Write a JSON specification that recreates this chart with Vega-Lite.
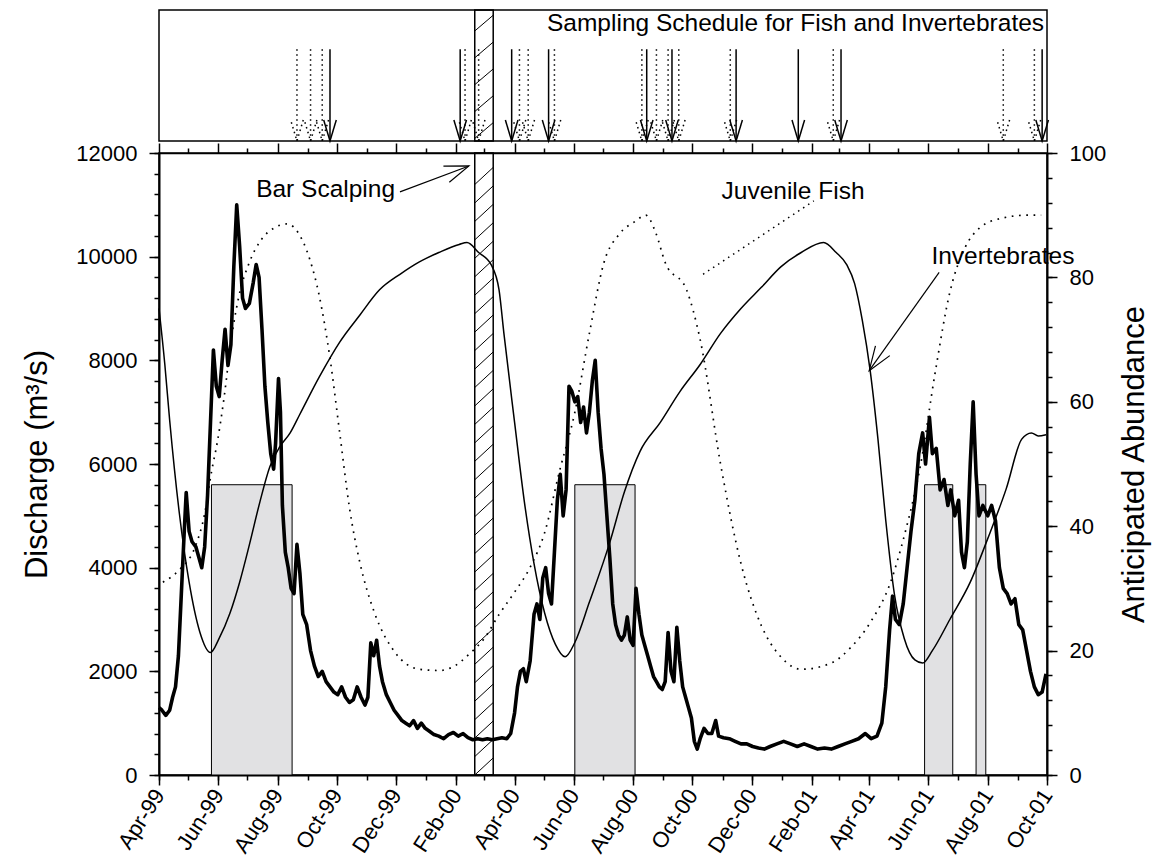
{
  "$schema": "https://vega.github.io/schema/vega-lite/v6.json",
  "padding": {"left": 21, "top": 8, "right": 5, "bottom": 5},
  "bounds": "flush",
  "spacing": 12,
  "config": {
    "font": "Liberation Sans",
    "view": {"stroke": "black", "strokeWidth": 1.5},
    "axis": {
      "grid": false,
      "domainColor": "black",
      "tickColor": "black",
      "labelColor": "black",
      "titleColor": "black",
      "labelFont": "Liberation Sans",
      "titleFont": "Liberation Sans",
      "labelFontSize": 22,
      "titleFontSize": 31,
      "titleFontWeight": "normal",
      "domainWidth": 2,
      "tickWidth": 1.5
    }
  },
  "datasets": {
    "discharge": [
      {"date": "1999-04-01", "q": 1300}, {"date": "1999-04-04", "q": 1250}, {"date": "1999-04-08", "q": 1150},
      {"date": "1999-04-12", "q": 1250}, {"date": "1999-04-15", "q": 1500}, {"date": "1999-04-18", "q": 1700},
      {"date": "1999-04-21", "q": 2300}, {"date": "1999-04-24", "q": 3500}, {"date": "1999-04-27", "q": 4700},
      {"date": "1999-04-29", "q": 5450}, {"date": "1999-05-02", "q": 4700}, {"date": "1999-05-05", "q": 4500},
      {"date": "1999-05-09", "q": 4400}, {"date": "1999-05-12", "q": 4200}, {"date": "1999-05-15", "q": 4000},
      {"date": "1999-05-18", "q": 4400}, {"date": "1999-05-21", "q": 5400}, {"date": "1999-05-24", "q": 6800},
      {"date": "1999-05-27", "q": 8200}, {"date": "1999-05-30", "q": 7500}, {"date": "1999-06-02", "q": 7300},
      {"date": "1999-06-05", "q": 8000}, {"date": "1999-06-08", "q": 8600}, {"date": "1999-06-11", "q": 7900},
      {"date": "1999-06-14", "q": 8300}, {"date": "1999-06-17", "q": 9800}, {"date": "1999-06-20", "q": 11000},
      {"date": "1999-06-23", "q": 10200}, {"date": "1999-06-26", "q": 9200}, {"date": "1999-06-29", "q": 9000},
      {"date": "1999-07-03", "q": 9100}, {"date": "1999-07-07", "q": 9500}, {"date": "1999-07-10", "q": 9850},
      {"date": "1999-07-13", "q": 9600}, {"date": "1999-07-16", "q": 8600}, {"date": "1999-07-19", "q": 7500},
      {"date": "1999-07-22", "q": 6800}, {"date": "1999-07-25", "q": 6200}, {"date": "1999-07-28", "q": 5900},
      {"date": "1999-07-30", "q": 6400}, {"date": "1999-08-02", "q": 7650}, {"date": "1999-08-04", "q": 7000},
      {"date": "1999-08-06", "q": 5200}, {"date": "1999-08-09", "q": 4300}, {"date": "1999-08-12", "q": 4000},
      {"date": "1999-08-15", "q": 3600}, {"date": "1999-08-18", "q": 3500}, {"date": "1999-08-21", "q": 4450},
      {"date": "1999-08-24", "q": 3900}, {"date": "1999-08-27", "q": 3100}, {"date": "1999-08-31", "q": 2900},
      {"date": "1999-09-04", "q": 2400}, {"date": "1999-09-08", "q": 2100}, {"date": "1999-09-12", "q": 1900},
      {"date": "1999-09-16", "q": 2000}, {"date": "1999-09-20", "q": 1800}, {"date": "1999-09-24", "q": 1700},
      {"date": "1999-09-28", "q": 1600}, {"date": "1999-10-02", "q": 1550}, {"date": "1999-10-06", "q": 1700},
      {"date": "1999-10-10", "q": 1500}, {"date": "1999-10-14", "q": 1400}, {"date": "1999-10-18", "q": 1450},
      {"date": "1999-10-22", "q": 1700}, {"date": "1999-10-26", "q": 1500}, {"date": "1999-10-30", "q": 1350},
      {"date": "1999-11-02", "q": 1500}, {"date": "1999-11-05", "q": 2550}, {"date": "1999-11-08", "q": 2300},
      {"date": "1999-11-11", "q": 2600}, {"date": "1999-11-14", "q": 2100}, {"date": "1999-11-17", "q": 1800},
      {"date": "1999-11-21", "q": 1550}, {"date": "1999-11-25", "q": 1400}, {"date": "1999-11-29", "q": 1250},
      {"date": "1999-12-03", "q": 1150}, {"date": "1999-12-07", "q": 1050}, {"date": "1999-12-11", "q": 1000},
      {"date": "1999-12-15", "q": 950}, {"date": "1999-12-19", "q": 1050}, {"date": "1999-12-23", "q": 900},
      {"date": "1999-12-27", "q": 1000}, {"date": "1999-12-31", "q": 900}, {"date": "2000-01-04", "q": 850},
      {"date": "2000-01-09", "q": 780}, {"date": "2000-01-14", "q": 750}, {"date": "2000-01-19", "q": 700},
      {"date": "2000-01-24", "q": 780}, {"date": "2000-01-29", "q": 820}, {"date": "2000-02-03", "q": 750},
      {"date": "2000-02-08", "q": 800}, {"date": "2000-02-13", "q": 720}, {"date": "2000-02-18", "q": 680},
      {"date": "2000-02-23", "q": 700}, {"date": "2000-02-28", "q": 680}, {"date": "2000-03-04", "q": 700},
      {"date": "2000-03-09", "q": 680}, {"date": "2000-03-14", "q": 700}, {"date": "2000-03-19", "q": 720},
      {"date": "2000-03-24", "q": 700}, {"date": "2000-03-28", "q": 800}, {"date": "2000-04-01", "q": 1200},
      {"date": "2000-04-04", "q": 1700}, {"date": "2000-04-07", "q": 2000}, {"date": "2000-04-10", "q": 2050},
      {"date": "2000-04-13", "q": 1800}, {"date": "2000-04-17", "q": 2200}, {"date": "2000-04-21", "q": 3100},
      {"date": "2000-04-24", "q": 3300}, {"date": "2000-04-27", "q": 3000}, {"date": "2000-04-30", "q": 3800},
      {"date": "2000-05-03", "q": 4000}, {"date": "2000-05-06", "q": 3500}, {"date": "2000-05-09", "q": 3300},
      {"date": "2000-05-12", "q": 4300}, {"date": "2000-05-15", "q": 5300}, {"date": "2000-05-18", "q": 5800},
      {"date": "2000-05-21", "q": 5000}, {"date": "2000-05-24", "q": 5500}, {"date": "2000-05-27", "q": 7500},
      {"date": "2000-05-30", "q": 7400}, {"date": "2000-06-02", "q": 7200}, {"date": "2000-06-05", "q": 7300},
      {"date": "2000-06-08", "q": 6800}, {"date": "2000-06-11", "q": 7100}, {"date": "2000-06-14", "q": 6600},
      {"date": "2000-06-17", "q": 7000}, {"date": "2000-06-20", "q": 7600}, {"date": "2000-06-23", "q": 8000},
      {"date": "2000-06-26", "q": 7000}, {"date": "2000-06-29", "q": 6300}, {"date": "2000-07-02", "q": 5800},
      {"date": "2000-07-05", "q": 5000}, {"date": "2000-07-08", "q": 4200}, {"date": "2000-07-11", "q": 3300},
      {"date": "2000-07-14", "q": 2900}, {"date": "2000-07-17", "q": 2700}, {"date": "2000-07-20", "q": 2600},
      {"date": "2000-07-23", "q": 2700}, {"date": "2000-07-26", "q": 3050}, {"date": "2000-07-29", "q": 2600},
      {"date": "2000-08-01", "q": 2500}, {"date": "2000-08-04", "q": 3600}, {"date": "2000-08-07", "q": 3100},
      {"date": "2000-08-10", "q": 2700}, {"date": "2000-08-13", "q": 2500}, {"date": "2000-08-16", "q": 2300},
      {"date": "2000-08-19", "q": 2100}, {"date": "2000-08-22", "q": 1900}, {"date": "2000-08-25", "q": 1800},
      {"date": "2000-08-28", "q": 1700}, {"date": "2000-08-31", "q": 1650}, {"date": "2000-09-03", "q": 1800},
      {"date": "2000-09-06", "q": 2750}, {"date": "2000-09-09", "q": 2000}, {"date": "2000-09-12", "q": 1800},
      {"date": "2000-09-15", "q": 2850}, {"date": "2000-09-18", "q": 2200}, {"date": "2000-09-21", "q": 1700},
      {"date": "2000-09-24", "q": 1500}, {"date": "2000-09-27", "q": 1300}, {"date": "2000-09-30", "q": 1100},
      {"date": "2000-10-03", "q": 650}, {"date": "2000-10-06", "q": 500}, {"date": "2000-10-09", "q": 700},
      {"date": "2000-10-13", "q": 900}, {"date": "2000-10-17", "q": 800}, {"date": "2000-10-21", "q": 800},
      {"date": "2000-10-25", "q": 1050}, {"date": "2000-10-28", "q": 750}, {"date": "2000-11-02", "q": 720},
      {"date": "2000-11-08", "q": 700}, {"date": "2000-11-14", "q": 650}, {"date": "2000-11-20", "q": 600},
      {"date": "2000-11-26", "q": 600}, {"date": "2000-12-02", "q": 550}, {"date": "2000-12-08", "q": 520},
      {"date": "2000-12-14", "q": 500}, {"date": "2000-12-20", "q": 550}, {"date": "2000-12-27", "q": 600},
      {"date": "2001-01-03", "q": 650}, {"date": "2001-01-10", "q": 600}, {"date": "2001-01-17", "q": 550},
      {"date": "2001-01-24", "q": 600}, {"date": "2001-01-31", "q": 550}, {"date": "2001-02-07", "q": 500},
      {"date": "2001-02-14", "q": 520}, {"date": "2001-02-21", "q": 500}, {"date": "2001-02-28", "q": 550},
      {"date": "2001-03-07", "q": 600}, {"date": "2001-03-14", "q": 650}, {"date": "2001-03-21", "q": 700},
      {"date": "2001-03-28", "q": 800}, {"date": "2001-04-03", "q": 700}, {"date": "2001-04-09", "q": 750},
      {"date": "2001-04-14", "q": 1000}, {"date": "2001-04-18", "q": 1700}, {"date": "2001-04-22", "q": 2800},
      {"date": "2001-04-25", "q": 3450}, {"date": "2001-04-28", "q": 3000}, {"date": "2001-05-02", "q": 2900},
      {"date": "2001-05-06", "q": 3300}, {"date": "2001-05-10", "q": 4000}, {"date": "2001-05-14", "q": 4700},
      {"date": "2001-05-18", "q": 5300}, {"date": "2001-05-22", "q": 6200}, {"date": "2001-05-26", "q": 6600},
      {"date": "2001-05-29", "q": 6000}, {"date": "2001-06-02", "q": 6900}, {"date": "2001-06-05", "q": 6200},
      {"date": "2001-06-09", "q": 6300}, {"date": "2001-06-13", "q": 5500}, {"date": "2001-06-17", "q": 5700},
      {"date": "2001-06-21", "q": 5200}, {"date": "2001-06-24", "q": 5500}, {"date": "2001-06-28", "q": 5000},
      {"date": "2001-07-02", "q": 5300}, {"date": "2001-07-05", "q": 4300}, {"date": "2001-07-08", "q": 4000},
      {"date": "2001-07-11", "q": 4500}, {"date": "2001-07-14", "q": 6000}, {"date": "2001-07-17", "q": 7200},
      {"date": "2001-07-20", "q": 5800}, {"date": "2001-07-23", "q": 5000}, {"date": "2001-07-27", "q": 5200},
      {"date": "2001-08-01", "q": 5000}, {"date": "2001-08-05", "q": 5200}, {"date": "2001-08-09", "q": 4900},
      {"date": "2001-08-13", "q": 4000}, {"date": "2001-08-17", "q": 3600}, {"date": "2001-08-21", "q": 3500},
      {"date": "2001-08-25", "q": 3300}, {"date": "2001-08-29", "q": 3400}, {"date": "2001-09-02", "q": 2900},
      {"date": "2001-09-06", "q": 2800}, {"date": "2001-09-10", "q": 2400}, {"date": "2001-09-14", "q": 2000},
      {"date": "2001-09-18", "q": 1700}, {"date": "2001-09-22", "q": 1550}, {"date": "2001-09-26", "q": 1600},
      {"date": "2001-09-30", "q": 1950}
    ],
    "fish": [
      {"date": "1999-04-05", "a": 31}, {"date": "1999-04-22", "a": 33}, {"date": "1999-05-08", "a": 36.6},
      {"date": "1999-05-18", "a": 42}, {"date": "1999-05-25", "a": 48.7}, {"date": "1999-05-31", "a": 53.5},
      {"date": "1999-06-07", "a": 60.7}, {"date": "1999-06-14", "a": 69.6}, {"date": "1999-06-22", "a": 76.8},
      {"date": "1999-07-03", "a": 82.4}, {"date": "1999-07-15", "a": 86}, {"date": "1999-07-29", "a": 88},
      {"date": "1999-08-11", "a": 88.6}, {"date": "1999-08-23", "a": 87}, {"date": "1999-09-03", "a": 83},
      {"date": "1999-09-13", "a": 77}, {"date": "1999-09-24", "a": 67}, {"date": "1999-10-04", "a": 55},
      {"date": "1999-10-14", "a": 43}, {"date": "1999-10-25", "a": 34}, {"date": "1999-11-09", "a": 26},
      {"date": "1999-11-30", "a": 19.7}, {"date": "1999-12-25", "a": 17}, {"date": "2000-01-14", "a": 16.8},
      {"date": "2000-01-30", "a": 17.5}, {"date": "2000-02-14", "a": 19.4}, {"date": "2000-03-01", "a": 22},
      {"date": "2000-03-16", "a": 25.8}, {"date": "2000-04-01", "a": 29.4}, {"date": "2000-04-17", "a": 33.4},
      {"date": "2000-05-02", "a": 39}, {"date": "2000-05-17", "a": 48.7}, {"date": "2000-06-02", "a": 58.3},
      {"date": "2000-06-17", "a": 71}, {"date": "2000-07-02", "a": 82.4}, {"date": "2000-07-18", "a": 87},
      {"date": "2000-08-03", "a": 89}, {"date": "2000-08-14", "a": 90}, {"date": "2000-08-24", "a": 87.3},
      {"date": "2000-09-03", "a": 82.4}, {"date": "2000-09-25", "a": 78}, {"date": "2000-10-09", "a": 70},
      {"date": "2000-10-30", "a": 50}, {"date": "2000-11-20", "a": 34}, {"date": "2000-12-11", "a": 24},
      {"date": "2000-12-31", "a": 19}, {"date": "2001-01-21", "a": 17}, {"date": "2001-02-21", "a": 18},
      {"date": "2001-03-13", "a": 20.5}, {"date": "2001-04-02", "a": 24.5}, {"date": "2001-04-23", "a": 31},
      {"date": "2001-05-08", "a": 39}, {"date": "2001-05-24", "a": 50}, {"date": "2001-06-08", "a": 64.8},
      {"date": "2001-06-23", "a": 77.6}, {"date": "2001-07-09", "a": 84.9}, {"date": "2001-07-24", "a": 88},
      {"date": "2001-08-15", "a": 89.5}, {"date": "2001-09-10", "a": 90}, {"date": "2001-09-25", "a": 90}
    ],
    "invertebrates": [
      {"date": "1999-04-01", "a": 75}, {"date": "1999-04-07", "a": 66}, {"date": "1999-04-12", "a": 57},
      {"date": "1999-04-22", "a": 42}, {"date": "1999-05-02", "a": 31}, {"date": "1999-05-13", "a": 23},
      {"date": "1999-05-24", "a": 19.7}, {"date": "1999-06-02", "a": 22}, {"date": "1999-06-13", "a": 26},
      {"date": "1999-06-23", "a": 31}, {"date": "1999-07-03", "a": 37}, {"date": "1999-07-14", "a": 44},
      {"date": "1999-07-24", "a": 49.5}, {"date": "1999-08-03", "a": 52.7}, {"date": "1999-08-14", "a": 55},
      {"date": "1999-08-24", "a": 58}, {"date": "1999-09-13", "a": 64}, {"date": "1999-10-04", "a": 69.6},
      {"date": "1999-10-25", "a": 74}, {"date": "1999-11-14", "a": 78}, {"date": "1999-12-05", "a": 80.5},
      {"date": "1999-12-25", "a": 82.5}, {"date": "2000-01-14", "a": 84}, {"date": "2000-02-04", "a": 85.3},
      {"date": "2000-02-12", "a": 85.6}, {"date": "2000-02-24", "a": 84}, {"date": "2000-03-08", "a": 82},
      {"date": "2000-03-16", "a": 78}, {"date": "2000-03-21", "a": 71}, {"date": "2000-04-01", "a": 56.7},
      {"date": "2000-04-11", "a": 44}, {"date": "2000-04-21", "a": 34}, {"date": "2000-05-02", "a": 26},
      {"date": "2000-05-13", "a": 21}, {"date": "2000-05-23", "a": 19}, {"date": "2000-06-02", "a": 21.3},
      {"date": "2000-06-17", "a": 27.8}, {"date": "2000-07-08", "a": 37.4}, {"date": "2000-07-23", "a": 45.5},
      {"date": "2000-08-08", "a": 52}, {"date": "2000-08-29", "a": 56.7}, {"date": "2000-09-18", "a": 61.6},
      {"date": "2000-10-09", "a": 66}, {"date": "2000-10-30", "a": 71}, {"date": "2000-11-20", "a": 75},
      {"date": "2000-12-11", "a": 78.4}, {"date": "2000-12-31", "a": 81.7}, {"date": "2001-01-21", "a": 84},
      {"date": "2001-02-13", "a": 85.6}, {"date": "2001-02-26", "a": 84}, {"date": "2001-03-09", "a": 82},
      {"date": "2001-03-17", "a": 79}, {"date": "2001-03-25", "a": 73}, {"date": "2001-04-02", "a": 65},
      {"date": "2001-04-10", "a": 54}, {"date": "2001-04-18", "a": 41}, {"date": "2001-04-27", "a": 29},
      {"date": "2001-05-07", "a": 22}, {"date": "2001-05-18", "a": 18.5}, {"date": "2001-05-26", "a": 18},
      {"date": "2001-06-05", "a": 20}, {"date": "2001-06-23", "a": 25}, {"date": "2001-07-14", "a": 31},
      {"date": "2001-08-01", "a": 38}, {"date": "2001-08-20", "a": 46}, {"date": "2001-09-05", "a": 54},
      {"date": "2001-09-15", "a": 55}, {"date": "2001-09-22", "a": 54.5}, {"date": "2001-09-30", "a": 54.7}
    ],
    "flood": [
      {"start": "1999-05-25", "end": "1999-08-16", "top": 5600},
      {"start": "2000-06-02", "end": "2000-08-03", "top": 5600},
      {"start": "2001-05-28", "end": "2001-06-26", "top": 5600},
      {"start": "2001-07-20", "end": "2001-07-30", "top": 5600}
    ],
    "scalping": [{"start": "2000-02-20", "end": "2000-03-10"}],
    "hatchMain": [
      {"start": "2000-02-20", "end": "2000-03-10", "lo": 0, "hi": 330},
      {"start": "2000-02-20", "end": "2000-03-10", "lo": 356, "hi": 686},
      {"start": "2000-02-20", "end": "2000-03-10", "lo": 712, "hi": 1042},
      {"start": "2000-02-20", "end": "2000-03-10", "lo": 1068, "hi": 1398},
      {"start": "2000-02-20", "end": "2000-03-10", "lo": 1424, "hi": 1754},
      {"start": "2000-02-20", "end": "2000-03-10", "lo": 1780, "hi": 2110},
      {"start": "2000-02-20", "end": "2000-03-10", "lo": 2136, "hi": 2466},
      {"start": "2000-02-20", "end": "2000-03-10", "lo": 2492, "hi": 2822},
      {"start": "2000-02-20", "end": "2000-03-10", "lo": 2848, "hi": 3178},
      {"start": "2000-02-20", "end": "2000-03-10", "lo": 3204, "hi": 3534},
      {"start": "2000-02-20", "end": "2000-03-10", "lo": 3560, "hi": 3890},
      {"start": "2000-02-20", "end": "2000-03-10", "lo": 3916, "hi": 4246},
      {"start": "2000-02-20", "end": "2000-03-10", "lo": 4272, "hi": 4602},
      {"start": "2000-02-20", "end": "2000-03-10", "lo": 4628, "hi": 4958},
      {"start": "2000-02-20", "end": "2000-03-10", "lo": 4984, "hi": 5314},
      {"start": "2000-02-20", "end": "2000-03-10", "lo": 5340, "hi": 5670},
      {"start": "2000-02-20", "end": "2000-03-10", "lo": 5696, "hi": 6026},
      {"start": "2000-02-20", "end": "2000-03-10", "lo": 6052, "hi": 6382},
      {"start": "2000-02-20", "end": "2000-03-10", "lo": 6408, "hi": 6738},
      {"start": "2000-02-20", "end": "2000-03-10", "lo": 6764, "hi": 7094},
      {"start": "2000-02-20", "end": "2000-03-10", "lo": 7120, "hi": 7450},
      {"start": "2000-02-20", "end": "2000-03-10", "lo": 7476, "hi": 7806},
      {"start": "2000-02-20", "end": "2000-03-10", "lo": 7832, "hi": 8162},
      {"start": "2000-02-20", "end": "2000-03-10", "lo": 8188, "hi": 8518},
      {"start": "2000-02-20", "end": "2000-03-10", "lo": 8544, "hi": 8874},
      {"start": "2000-02-20", "end": "2000-03-10", "lo": 8900, "hi": 9230},
      {"start": "2000-02-20", "end": "2000-03-10", "lo": 9256, "hi": 9586},
      {"start": "2000-02-20", "end": "2000-03-10", "lo": 9612, "hi": 9942},
      {"start": "2000-02-20", "end": "2000-03-10", "lo": 9968, "hi": 10298},
      {"start": "2000-02-20", "end": "2000-03-10", "lo": 10324, "hi": 10654},
      {"start": "2000-02-20", "end": "2000-03-10", "lo": 10680, "hi": 11010},
      {"start": "2000-02-20", "end": "2000-03-10", "lo": 11036, "hi": 11366},
      {"start": "2000-02-20", "end": "2000-03-10", "lo": 11392, "hi": 11722}
    ],
    "hatchTop": [
      {"start": "2000-02-20", "end": "2000-03-10", "lo": 0.02, "hi": 0.14},
      {"start": "2000-02-20", "end": "2000-03-10", "lo": 0.225, "hi": 0.345},
      {"start": "2000-02-20", "end": "2000-03-10", "lo": 0.43, "hi": 0.55},
      {"start": "2000-02-20", "end": "2000-03-10", "lo": 0.635, "hi": 0.755},
      {"start": "2000-02-20", "end": "2000-03-10", "lo": 0.84, "hi": 0.96}
    ],
    "samples": [
      {"date": "1999-09-24", "kind": "Invertebrates"}, {"date": "2000-02-05", "kind": "Invertebrates"},
      {"date": "2000-03-29", "kind": "Invertebrates"}, {"date": "2000-05-06", "kind": "Invertebrates"},
      {"date": "2000-08-15", "kind": "Invertebrates"}, {"date": "2000-09-10", "kind": "Invertebrates"},
      {"date": "2000-11-15", "kind": "Invertebrates"}, {"date": "2001-01-18", "kind": "Invertebrates"},
      {"date": "2001-03-03", "kind": "Invertebrates"}, {"date": "2001-09-26", "kind": "Invertebrates"},
      {"date": "1999-08-21", "kind": "Fish"}, {"date": "1999-09-04", "kind": "Fish"},
      {"date": "1999-09-16", "kind": "Fish"}, {"date": "2000-02-10", "kind": "Fish"},
      {"date": "2000-02-24", "kind": "Fish"}, {"date": "2000-04-06", "kind": "Fish"},
      {"date": "2000-04-15", "kind": "Fish"}, {"date": "2000-05-12", "kind": "Fish"},
      {"date": "2000-08-10", "kind": "Fish"}, {"date": "2000-08-25", "kind": "Fish"},
      {"date": "2000-09-06", "kind": "Fish"}, {"date": "2000-09-17", "kind": "Fish"},
      {"date": "2000-11-09", "kind": "Fish"}, {"date": "2001-02-23", "kind": "Fish"},
      {"date": "2001-08-17", "kind": "Fish"}, {"date": "2001-09-18", "kind": "Fish"}
    ]
  },
  "vconcat": [
    {
      "width": 888,
      "height": 131,
      "layer": [
        {
          "data": {"name": "scalping"},
          "mark": {"type": "rect", "fill": "transparent", "stroke": "black", "strokeWidth": 1.5},
          "encoding": {
            "x": {"field": "start", "type": "temporal", "axis": null,
                  "scale": {"domain": [{"year": 1999, "month": 4, "date": 1}, {"year": 2001, "month": 10, "date": 1}], "nice": false}},
            "x2": {"field": "end"},
            "y": {"datum": 0, "type": "quantitative", "axis": null, "scale": {"domain": [0, 1], "nice": false}},
            "y2": {"datum": 1}
          }
        },
        {
          "data": {"name": "hatchTop"},
          "mark": {"type": "rule", "stroke": "black", "strokeWidth": 1},
          "encoding": {
            "x": {"field": "start", "type": "temporal", "axis": null},
            "x2": {"field": "end"},
            "y": {"field": "lo", "type": "quantitative", "axis": null},
            "y2": {"field": "hi"}
          }
        },
        {
          "data": {"name": "samples"},
          "mark": {"type": "rule", "stroke": "black", "strokeWidth": 1.5},
          "encoding": {
            "x": {"field": "date", "type": "temporal", "axis": null},
            "y": {"datum": 0.7, "type": "quantitative", "axis": null},
            "y2": {"datum": 0},
            "strokeDash": {"field": "kind", "type": "nominal", "legend": null,
                           "scale": {"domain": ["Invertebrates", "Fish"], "range": [[1, 0], [1.5, 3.5]]}}
          }
        },
        {
          "data": {"name": "samples"},
          "mark": {"type": "point", "shape": "M-1,-0.3L0,0L-1,0.3", "filled": false, "size": 1764,
                   "angle": 90, "stroke": "black", "strokeWidth": 1.5, "opacity": 1},
          "encoding": {
            "x": {"field": "date", "type": "temporal", "axis": null},
            "y": {"datum": 0, "type": "quantitative", "axis": null},
            "strokeDash": {"field": "kind", "type": "nominal", "legend": null,
                           "scale": {"domain": ["Invertebrates", "Fish"], "range": [[1, 0], [1.5, 3.5]]}}
          }
        },
        {
          "data": {"values": [{"label": "Sampling Schedule for Fish and Invertebrates", "date": "2001-09-28", "lvl": 0.84}]},
          "mark": {"type": "text", "align": "right", "baseline": "alphabetic", "fontSize": 24.5, "color": "black"},
          "encoding": {
            "x": {"field": "date", "type": "temporal", "axis": null},
            "y": {"field": "lvl", "type": "quantitative", "axis": null},
            "text": {"field": "label"}
          }
        }
      ]
    },
    {
      "width": 888,
      "height": 622,
      "layer": [
        {
          "layer": [
            {
              "data": {"name": "flood"},
              "mark": {"type": "rect", "fill": "#e1e1e3", "stroke": "black", "strokeWidth": 1},
              "encoding": {
                "x": {"field": "start", "type": "temporal",
                      "scale": {"domain": [{"year": 1999, "month": 4, "date": 1}, {"year": 2001, "month": 10, "date": 1}], "nice": false},
                      "axis": {"orient": "bottom", "title": null, "format": "%b-%y", "tickSize": 10, "labelAngle": -57,
                               "labelAlign": "right", "labelBaseline": "middle", "labelPadding": 6,
                               "labelOverlap": false, "labelFlush": false, "labelBound": false,
                               "values": [
                                 {"year": 1999, "month": 4, "date": 1}, {"year": 1999, "month": 6, "date": 1},
                                 {"year": 1999, "month": 8, "date": 1}, {"year": 1999, "month": 10, "date": 1},
                                 {"year": 1999, "month": 12, "date": 1}, {"year": 2000, "month": 2, "date": 1},
                                 {"year": 2000, "month": 4, "date": 1}, {"year": 2000, "month": 6, "date": 1},
                                 {"year": 2000, "month": 8, "date": 1}, {"year": 2000, "month": 10, "date": 1},
                                 {"year": 2000, "month": 12, "date": 1}, {"year": 2001, "month": 2, "date": 1},
                                 {"year": 2001, "month": 4, "date": 1}, {"year": 2001, "month": 6, "date": 1},
                                 {"year": 2001, "month": 8, "date": 1}, {"year": 2001, "month": 10, "date": 1}]}},
                "x2": {"field": "end"},
                "y": {"field": "top", "type": "quantitative", "scale": {"domain": [0, 12000], "nice": false},
                      "axis": {"orient": "left", "title": "Discharge (m³/s)", "titlePadding": 22, "format": "d",
                               "values": [0, 2000, 4000, 6000, 8000, 10000, 12000],
                               "tickSize": 10, "labelPadding": 12}},
                "y2": {"datum": 0}
              }
            },
            {
              "data": {"name": "hatchMain"},
              "mark": {"type": "rule", "stroke": "black", "strokeWidth": 1, "clip": true},
              "encoding": {
                "x": {"field": "start", "type": "temporal",
                      "axis": {"orient": "bottom", "title": null, "labels": false, "domain": false, "tickSize": 5,
                               "values": [
                                 {"year": 1999, "month": 4, "date": 1}, {"year": 1999, "month": 5, "date": 1},
                                 {"year": 1999, "month": 6, "date": 1}, {"year": 1999, "month": 7, "date": 1},
                                 {"year": 1999, "month": 8, "date": 1}, {"year": 1999, "month": 9, "date": 1},
                                 {"year": 1999, "month": 10, "date": 1}, {"year": 1999, "month": 11, "date": 1},
                                 {"year": 1999, "month": 12, "date": 1}, {"year": 2000, "month": 1, "date": 1},
                                 {"year": 2000, "month": 2, "date": 1}, {"year": 2000, "month": 3, "date": 1},
                                 {"year": 2000, "month": 4, "date": 1}, {"year": 2000, "month": 5, "date": 1},
                                 {"year": 2000, "month": 6, "date": 1}, {"year": 2000, "month": 7, "date": 1},
                                 {"year": 2000, "month": 8, "date": 1}, {"year": 2000, "month": 9, "date": 1},
                                 {"year": 2000, "month": 10, "date": 1}, {"year": 2000, "month": 11, "date": 1},
                                 {"year": 2000, "month": 12, "date": 1}, {"year": 2001, "month": 1, "date": 1},
                                 {"year": 2001, "month": 2, "date": 1}, {"year": 2001, "month": 3, "date": 1},
                                 {"year": 2001, "month": 4, "date": 1}, {"year": 2001, "month": 5, "date": 1},
                                 {"year": 2001, "month": 6, "date": 1}, {"year": 2001, "month": 7, "date": 1},
                                 {"year": 2001, "month": 8, "date": 1}, {"year": 2001, "month": 9, "date": 1},
                                 {"year": 2001, "month": 10, "date": 1}]}},
                "x2": {"field": "end"},
                "y": {"field": "lo", "type": "quantitative",
                      "axis": {"orient": "left", "title": null, "labels": false, "domain": false, "tickSize": 5,
                               "values": [0, 400, 800, 1200, 1600, 2000, 2400, 2800, 3200, 3600, 4000, 4400, 4800, 5200,
                                          5600, 6000, 6400, 6800, 7200, 7600, 8000, 8400, 8800, 9200, 9600, 10000,
                                          10400, 10800, 11200, 11600, 12000]}},
                "y2": {"field": "hi"}
              }
            },
            {
              "data": {"name": "scalping"},
              "mark": {"type": "rect", "fill": "transparent", "stroke": "black", "strokeWidth": 1.5},
              "encoding": {
                "x": {"field": "start", "type": "temporal",
                      "axis": {"orient": "top", "title": null, "labels": false, "tickSize": 10, "domainWidth": 1.5,
                               "values": [
                                 {"year": 1999, "month": 4, "date": 1}, {"year": 1999, "month": 6, "date": 1},
                                 {"year": 1999, "month": 8, "date": 1}, {"year": 1999, "month": 10, "date": 1},
                                 {"year": 1999, "month": 12, "date": 1}, {"year": 2000, "month": 2, "date": 1},
                                 {"year": 2000, "month": 4, "date": 1}, {"year": 2000, "month": 6, "date": 1},
                                 {"year": 2000, "month": 8, "date": 1}, {"year": 2000, "month": 10, "date": 1},
                                 {"year": 2000, "month": 12, "date": 1}, {"year": 2001, "month": 2, "date": 1},
                                 {"year": 2001, "month": 4, "date": 1}, {"year": 2001, "month": 6, "date": 1},
                                 {"year": 2001, "month": 8, "date": 1}, {"year": 2001, "month": 10, "date": 1}]}},
                "x2": {"field": "end"},
                "y": {"datum": 0, "type": "quantitative", "axis": null},
                "y2": {"datum": 12000}
              }
            },
            {
              "data": {"name": "discharge"},
              "mark": {"type": "line", "stroke": "black", "strokeWidth": 3.6, "strokeJoin": "round"},
              "encoding": {
                "x": {"field": "date", "type": "temporal",
                      "axis": {"orient": "top", "title": null, "labels": false, "domain": false, "tickSize": 5,
                               "values": [
                                 {"year": 1999, "month": 5, "date": 1}, {"year": 1999, "month": 7, "date": 1},
                                 {"year": 1999, "month": 9, "date": 1}, {"year": 1999, "month": 11, "date": 1},
                                 {"year": 2000, "month": 1, "date": 1}, {"year": 2000, "month": 3, "date": 1},
                                 {"year": 2000, "month": 5, "date": 1}, {"year": 2000, "month": 7, "date": 1},
                                 {"year": 2000, "month": 9, "date": 1}, {"year": 2000, "month": 11, "date": 1},
                                 {"year": 2001, "month": 1, "date": 1}, {"year": 2001, "month": 3, "date": 1},
                                 {"year": 2001, "month": 5, "date": 1}, {"year": 2001, "month": 7, "date": 1},
                                 {"year": 2001, "month": 9, "date": 1}]}},
                "y": {"field": "q", "type": "quantitative", "axis": null}
              }
            },
            {
              "data": {"values": [{"label": "Bar Scalping", "date": "1999-07-10", "q": 11150}]},
              "mark": {"type": "text", "align": "left", "baseline": "alphabetic", "fontSize": 24.5, "color": "black"},
              "encoding": {
                "x": {"field": "date", "type": "temporal", "axis": null},
                "y": {"field": "q", "type": "quantitative", "axis": null},
                "text": {"field": "label"}
              }
            },
            {
              "data": {"values": [{"date": "1999-12-05", "q": 11250, "dateEnd": "2000-02-14", "qEnd": 11750}]},
              "mark": {"type": "rule", "stroke": "black", "strokeWidth": 1.2},
              "encoding": {
                "x": {"field": "date", "type": "temporal", "axis": null},
                "y": {"field": "q", "type": "quantitative", "axis": null},
                "x2": {"field": "dateEnd"},
                "y2": {"field": "qEnd"}
              }
            },
            {
              "data": {"values": [{"dateEnd": "2000-02-14", "qEnd": 11750}]},
              "mark": {"type": "point", "shape": "M-1,-0.36L0,0L-1,0.36", "filled": false, "size": 2304,
                       "angle": -20, "stroke": "black", "strokeWidth": 1.2, "opacity": 1},
              "encoding": {
                "x": {"field": "dateEnd", "type": "temporal", "axis": null},
                "y": {"field": "qEnd", "type": "quantitative", "axis": null}
              }
            }
          ],
          "resolve": {"axis": {"x": "independent", "y": "independent"}}
        },
        {
          "layer": [
            {
              "data": {"name": "invertebrates"},
              "mark": {"type": "line", "interpolate": "monotone", "stroke": "black", "strokeWidth": 1.5},
              "encoding": {
                "x": {"field": "date", "type": "temporal", "axis": null},
                "y": {"field": "a", "type": "quantitative", "scale": {"domain": [0, 100], "nice": false},
                      "axis": {"orient": "right", "title": "Anticipated Abundance", "titleAngle": -90,
                               "titleBaseline": "top", "titlePadding": 14,
                               "values": [0, 20, 40, 60, 80, 100], "tickSize": 10, "labelPadding": 12}}
              }
            },
            {
              "data": {"name": "fish"},
              "mark": {"type": "line", "interpolate": "monotone", "stroke": "black", "strokeWidth": 1.7,
                       "strokeDash": [1.7, 5.6]},
              "encoding": {
                "x": {"field": "date", "type": "temporal", "axis": null},
                "y": {"field": "a", "type": "quantitative",
                      "axis": {"orient": "right", "title": null, "labels": false, "domain": false, "tickSize": 5,
                               "values": [0, 4, 8, 12, 16, 20, 24, 28, 32, 36, 40, 44, 48, 52, 56, 60, 64, 68,
                                          72, 76, 80, 84, 88, 92, 96, 100]}}
              }
            },
            {
              "data": {"values": [
                {"label": "Juvenile Fish", "date": "2000-10-31", "a": 92.6},
                {"label": "Invertebrates", "date": "2001-06-04", "a": 82.1}
              ]},
              "mark": {"type": "text", "align": "left", "baseline": "alphabetic", "fontSize": 24.5, "color": "black"},
              "encoding": {
                "x": {"field": "date", "type": "temporal", "axis": null},
                "y": {"field": "a", "type": "quantitative", "axis": null},
                "text": {"field": "label"}
              }
            },
            {
              "data": {"values": [{"date": "2000-10-12", "a": 80.5, "dateEnd": "2001-02-03", "aEnd": 92.3}]},
              "mark": {"type": "rule", "stroke": "black", "strokeWidth": 1.5, "strokeDash": [1.5, 4.5]},
              "encoding": {
                "x": {"field": "date", "type": "temporal", "axis": null},
                "y": {"field": "a", "type": "quantitative", "axis": null},
                "x2": {"field": "dateEnd"},
                "y2": {"field": "aEnd"}
              }
            },
            {
              "data": {"values": [{"date": "2001-06-12", "a": 80.8, "dateEnd": "2001-04-01", "aEnd": 65}]},
              "mark": {"type": "rule", "stroke": "black", "strokeWidth": 1.2},
              "encoding": {
                "x": {"field": "date", "type": "temporal", "axis": null},
                "y": {"field": "a", "type": "quantitative", "axis": null},
                "x2": {"field": "dateEnd"},
                "y2": {"field": "aEnd"}
              }
            },
            {
              "data": {"values": [{"dateEnd": "2001-04-01", "aEnd": 65}]},
              "mark": {"type": "point", "shape": "M-1,-0.36L0,0L-1,0.36", "filled": false, "size": 2304,
                       "angle": 124, "stroke": "black", "strokeWidth": 1.2, "opacity": 1},
              "encoding": {
                "x": {"field": "dateEnd", "type": "temporal", "axis": null},
                "y": {"field": "aEnd", "type": "quantitative", "axis": null}
              }
            }
          ],
          "resolve": {"axis": {"x": "independent", "y": "independent"}}
        }
      ],
      "resolve": {"scale": {"y": "independent"}, "axis": {"x": "independent", "y": "independent"}}
    }
  ]
}
